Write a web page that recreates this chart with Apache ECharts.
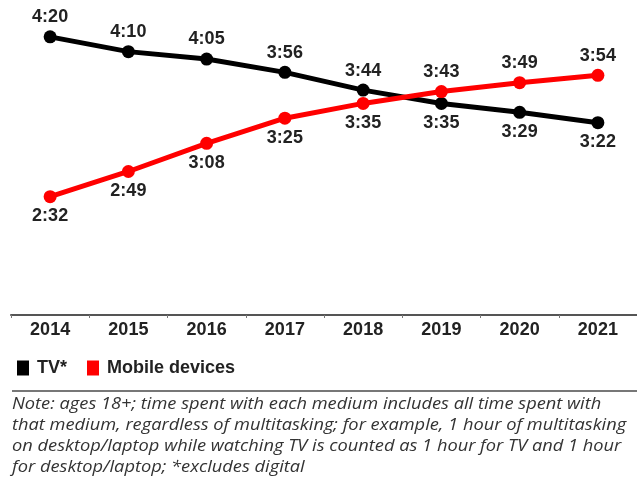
<!DOCTYPE html>
<html>
<head>
<meta charset="utf-8">
<script src="https://cdn.jsdelivr.net/npm/echarts@6/dist/echarts.min.js"></script>
<style>
  html, body { margin: 0; padding: 0; background: #fff; }
  #chart { width: 637px; height: 479px; }
</style>
</head>
<body>
<div id="chart"></div>
<script>
// Daily time spent, in minutes
const years = ['2014', '2015', '2016', '2017', '2018', '2019', '2020', '2021'];
const tvMinutes = [260, 250, 245, 236, 224, 215, 209, 202];
const mobileMinutes = [152, 169, 188, 205, 215, 223, 229, 234];
const seriesNames = ['TV*', 'Mobile devices'];
const noteLines = [
  'Note: ages 18+; time spent with each medium includes all time spent with',
  'that medium, regardless of multitasking; for example, 1 hour of multitasking',
  'on desktop/laptop while watching TV is counted as 1 hour for TV and 1 hour',
  'for desktop/laptop; *excludes digital'
];

function hm(v) {
  const h = Math.floor(v / 60);
  const m = v % 60;
  return h + ':' + (m < 10 ? '0' + m : m);
}

// label goes above a point when its series is the higher one at that year
function withLabels(values, other) {
  return values.map((v, i) => ({
    value: v,
    label: { position: v >= other[i] ? 'top' : 'bottom' }
  }));
}

const boldFont = {
  fontFamily: 'Liberation Sans, Arial, sans-serif',
  fontWeight: 'bold',
  fontSize: 18,
  color: '#222'
};

const pointLabel = Object.assign({
  show: true,
  formatter: p => hm(p.value),
  distance: 4
}, boldFont);

const chart = echarts.init(document.getElementById('chart'), null, { renderer: 'canvas' });
chart.setOption({
  animation: false,
  backgroundColor: '#fff',
  grid: { left: 11, right: -2, top: 25, height: 290, containLabel: false },
  xAxis: {
    type: 'category',
    data: years,
    boundaryGap: true,
    axisLine: { lineStyle: { color: '#555', width: 2 } },
    axisTick: { show: true, length: 3, lineStyle: { color: '#777', width: 1 } },
    axisLabel: Object.assign({ margin: 6 }, boldFont)
  },
  yAxis: {
    type: 'value',
    min: 72,
    max: 268,
    show: false,
    splitLine: { show: false }
  },
  legend: {
    left: 12,
    top: 354,
    icon: 'rect',
    itemWidth: 12,
    itemHeight: 15,
    itemGap: 20,
    textStyle: Object.assign({ padding: [0, 0, 0, 3] }, boldFont),
    data: seriesNames
  },
  series: [
    {
      name: seriesNames[0],
      type: 'line',
      data: withLabels(tvMinutes, mobileMinutes),
      color: '#000',
      symbol: 'circle',
      symbolSize: 13,
      lineStyle: { width: 5, color: '#000' },
      itemStyle: { color: '#000' },
      label: pointLabel
    },
    {
      name: seriesNames[1],
      type: 'line',
      data: withLabels(mobileMinutes, tvMinutes),
      color: '#ff0000',
      symbol: 'circle',
      symbolSize: 13,
      lineStyle: { width: 5, color: '#ff0000' },
      itemStyle: { color: '#ff0000' },
      label: pointLabel
    }
  ],
  graphic: [
    {
      type: 'line',
      shape: { x1: 12, y1: 391, x2: 637, y2: 391 },
      style: { stroke: '#777', lineWidth: 2 }
    },
    {
      type: 'text',
      x: 12,
      y: 394,
      scaleX: 1.14,
      style: {
        text: noteLines.join('\n'),
        fontFamily: 'Open Sans, sans-serif',
        fontStyle: 'italic',
        fontSize: 16,
        lineHeight: 21,
        fill: '#333'
      }
    }
  ]
});
</script>
</body>
</html>
